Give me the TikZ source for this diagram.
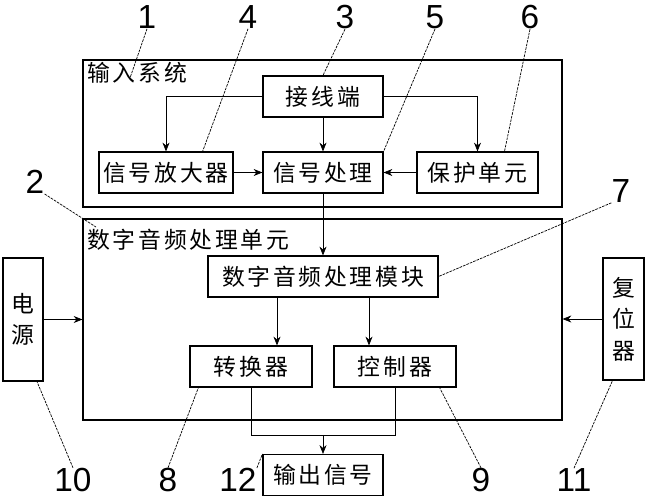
\documentclass[tikz,border=0pt]{standalone}
\usepackage{fontspec}
\newfontfamily\cjk[LetterSpace=12]{Noto Sans CJK SC}
\newfontfamily\numfont{Liberation Sans}
\usetikzlibrary{arrows.meta,calc}

\begin{document}
\begin{tikzpicture}[x=0.02cm,y=-0.02cm,>={Stealth[length=5pt,width=4pt]},
  box/.style={draw,line width=0.7pt,minimum height=0.82cm,inner sep=0pt,font=\cjk\fontsize{13}{15}\selectfont},
  frame/.style={draw,line width=0.7pt,minimum width=9.58cm,inner sep=0pt},
  title/.style={font=\cjk\fontsize{13}{15}\selectfont,anchor=west,inner sep=0pt},
  vbox/.style={box,align=center,font=\cjk\fontsize{13}{18}\selectfont},
  num/.style={font=\numfont\fontsize{19}{23}\selectfont,inner sep=0pt},
  lead/.style={line width=0.4pt,dash pattern=on 1.5pt off 0.6pt}]
  \useasboundingbox (0,0) rectangle (647,500);
  \node[frame,minimum height=2.94cm] (IN) at (322.5,133.5) {};
  \node[frame,minimum height=4.02cm] (DU) at (322.5,319.5) {};
  \node[title] (INt) at (87,73) {输入系统};
  \node[title] (DUt) at (87,240) {数字音频处理单元};
  \node[box,minimum width=2.4cm]  (JX)  at (323,96.5)  {接线端};
  \node[box,minimum width=2.68cm] (AMP) at (166,172.5) {信号放大器};
  \node[box,minimum width=2.4cm]  (SP)  at (323,172.5) {信号处理};
  \node[box,minimum width=2.42cm] (PR)  at (477.5,172.5) {保护单元};
  \node[box,minimum width=4.6cm]  (DAP) at (323,276.5) {数字音频处理模块};
  \node[box,minimum width=2.44cm] (CV)  at (251,366.5) {转换器};
  \node[box,minimum width=2.44cm] (CT)  at (395,366.5) {控制器};
  \node[box,minimum width=2.4cm]  (OUT) at (323,475)   {输出信号};
  \node[vbox,minimum width=0.8cm,minimum height=2.46cm]  (PW) at (23,319.5)  {电\\源};
  \node[vbox,minimum width=0.82cm,minimum height=2.44cm] (RS) at (623.5,319) {复\\位\\器};

  \draw[->] (JX.west) -| (AMP.north);
  \draw[->] (JX.east) -| (PR.north);
  \draw[->] (JX) -- (SP);
  \draw[->] (AMP) -- (SP);
  \draw[->] (PR) -- (SP);
  \draw[->] (SP) -- (DAP);
  \coordinate (cvin) at ($(CV.north)+(26,0)$);
  \coordinate (ctin) at ($(CT.north)+(-26,0)$);
  \draw[->] (cvin |- DAP.south) -- (cvin);
  \draw[->] (ctin |- DAP.south) -- (ctin);
  \coordinate (J) at ($(OUT.north)+(0,-19)$);
  \draw (CV.south) |- (J) -| (CT.south);
  \draw[->] (J) -- (OUT);
  \draw[->] (PW) -- (PW -| DU.west);
  \draw[->] (RS) -- (RS -| DU.east);

  \node[num] (n1)  at (147,17)  {1};
  \node[num] (n4)  at (248,17)  {4};
  \node[num] (n3)  at (345,17)  {3};
  \node[num] (n5)  at (435,17)  {5};
  \node[num] (n6)  at (530,17)  {6};
  \node[num] (n7)  at (621,191) {7};
  \node[num] (n2)  at (35,182)  {2};
  \node[num] (n10) at (73,480)  {10};
  \node[num] (n8)  at (168,480) {8};
  \node[num] (n12) at (238,480) {12};
  \node[num] (n9)  at (481,480) {9};
  \node[num] (n11) at (574,480) {11};
  \coordinate (in1) at (130,78);
  \draw[lead] (n1.south) -- (in1);
  \draw[lead] (n4.south) -- ($(AMP.north east)+(-31,0)$);
  \draw[lead] (n3.south) -- (JX.north);
  \draw[lead] (n5.south) -- (SP.north east);
  \draw[lead] (n6.south) -- ($(PR.north)+(27,0)$);
  \draw[lead] (n7.south west) -- (DAP.east);
  \draw[lead] (n2.south east) -- ($(DUt.north west)+(9,-2)$);
  \draw[lead] (n10.north) -- ($(PW.south)+(14,0)$);
  \draw[lead] (n8.north) -- ($(CV.south west)+(9,0)$);
  \draw[lead] (n12.north east) -- (OUT.north west);
  \draw[lead] (n9.north) -- ($(CT.south east)+(-17,0)$);
  \draw[lead] (n11.north) -- ($(RS.south)+(-11,0)$);
\end{tikzpicture}
\end{document}
